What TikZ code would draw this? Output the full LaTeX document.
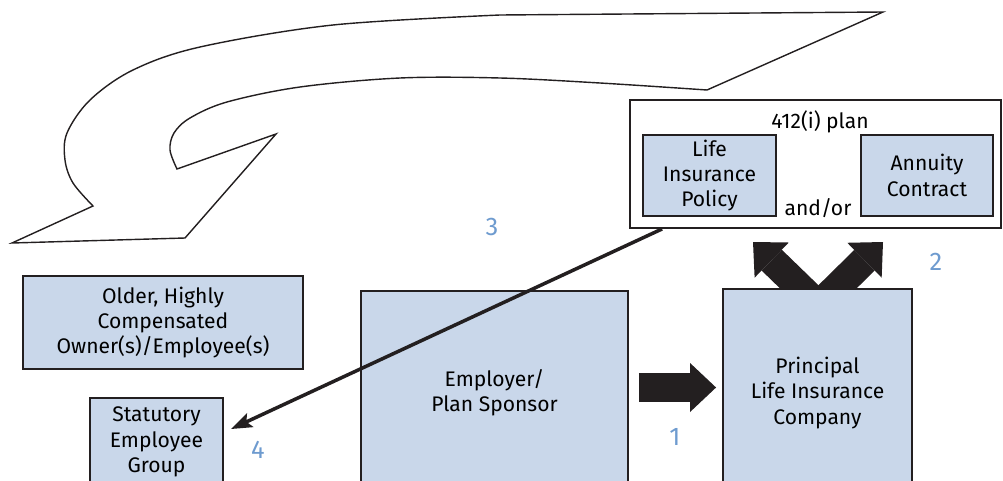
\documentclass[tikz,border=0pt]{standalone}
\usepackage{fontspec}
\setmainfont{Fira Sans}
\usetikzlibrary{arrows.meta,positioning}
\definecolor{boxfill}{HTML}{C9D7EA}
\definecolor{ink}{HTML}{231F20}
\definecolor{steplabel}{HTML}{6E9BCF}

\begin{document}
\begin{tikzpicture}[x=0.02cm,y=-0.02cm,>=Stealth,
 box/.style={draw=ink,line width=1.1pt,fill=boxfill,align=center,inner sep=0pt,
  font=\fontsize{12}{14.4}\selectfont},
 plain/.style={font=\fontsize{12}{14.4}\selectfont,inner sep=1pt},
 num/.style={text=steplabel,font=\fontsize{14.5}{16}\selectfont},
 fat/.style={ink,line width=0.58cm,-{Triangle[width=0.98cm,length=0.52cm,line width=0pt]}},
 link/.style={ink,line width=2pt,-{Stealth[length=0.42cm,width=0.3cm,inset=0.08cm]}}]
\useasboundingbox (0,0) rectangle (1003,480);
\clip (0,0) rectangle (1003,480);
% sweeping arrow back to the owners
\draw[ink,line width=0.8pt,line join=miter] (883,12) -- plot[smooth,tension=0.55] coordinates
 {(500,15) (333,25) (200,47) (133,70) (90,100) (67,133) (65,160) (73,183) (93,206)}
 -- (12,243) -- (185,238) -- (276,134) -- plot[smooth,tension=0.55] coordinates
 {(177,169) (170,150) (174,133) (190,118) (227,102) (300,87) (400,78) (500,78) (600,83) (707,90)}
 -- cycle;
% the contract
\node[draw=ink,line width=1.1pt,fill=white,minimum width=7.42cm,minimum height=2.56cm] (plan) at (815.5,164) {};
\node[plain] (plantitle) at (820,122) {412(i) plan};
\node[box,minimum width=2.66cm,minimum height=1.62cm] (policy) at (709.5,175.5) {Life\\Insurance\\Policy};
\node[box,minimum width=2.64cm,minimum height=1.62cm] (annuity) at (927,175.5) {Annuity\\Contract};
\node[plain] (andor) at (818,208) {and/or};
% insurer hands out both
\coordinate (fork) at (818.5,305.5);
\coordinate (tipa) at (753,242);
\coordinate (tipb) at (883,242);
\draw[fat] (fork) -- (tipa);
\draw[fat] (fork) -- (tipb);
% parties
\node[box,minimum width=5.6cm,minimum height=1.86cm] (older) at (163,322.5) {Older, Highly\\Compensated\\Owner(s)/Employee(s)};
\node[box,minimum width=2.66cm,minimum height=1.76cm] (stat) at (156.5,442) {Statutory\\Employee\\Group};
\node[box,minimum width=5.34cm,minimum height=4.08cm] (employer) at (494.5,393) {Employer/\\Plan Sponsor};
\node[box,minimum width=3.78cm,minimum height=4.16cm] (principal) at (817.5,393) {Principal\\Life Insurance\\Company};
\draw[fat,shorten <=0.2cm,shorten >=0.12cm] ([yshift=0.11cm]employer.east) -- ([yshift=0.11cm]principal.west);
\draw[link] ([xshift=0.66cm]plan.south west) -- ([xshift=0.14cm,yshift=-0.64cm]stat.north east);
% step numbers
\node[num] (n1) at (675,437) {1};
\node[num] (n2) at (936,262) {2};
\node[num] (n3) at (492,227) {3};
\node[num] (n4) at (258,450) {4};
\end{tikzpicture}
\end{document}
